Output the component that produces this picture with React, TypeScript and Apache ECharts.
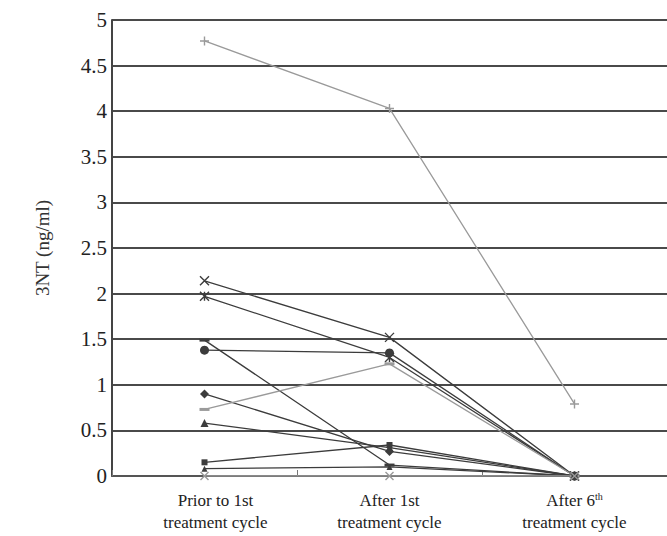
import React, { useEffect, useRef } from "react";
import * as echarts from "echarts";

const categories = [
  "Prior to 1st\ntreatment cycle",
  "After 1st\ntreatment cycle",
  "After 6{sup|th}\ntreatment cycle",
];

const yTicks = { min: 0, max: 5, interval: 0.5 };

const sPlus = [4.77, 4.03, 0.79];
const sCross = [2.14, 1.52, 0];
const sStar = [1.97, 1.3, 0];
const sBar = [1.49, 0.12, 0];
const sCircle = [1.38, 1.35, 0];
const sDiamond = [0.9, 0.27, 0];
const sDash = [0.73, 1.23, 0];
const sTriangle = [0.58, 0.31, 0];
const sSquare = [0.15, 0.34, 0];
const sSmall = [0.08, 0.1, 0];
const sZero = [0, 0, 0];

const DARK = "#3c3c3c";
const LIGHT = "#9a9a9a";

const SYM_X = "path://M0,0L10,10M10,0L0,10";
const SYM_PLUS = "path://M5,0L5,10M0,5L10,5";
const SYM_STAR = "path://M0,0L10,10M10,0L0,10M5,0L5,10";
const SYM_DASH = "path://M0,0L10,0L10,3L0,3Z";

function mk(name: string, data: number[], symbol: string, size: number | number[], color: string) {
  const stroked = symbol === SYM_X || symbol === SYM_PLUS || symbol === SYM_STAR;
  return {
    name,
    type: "line",
    data,
    symbol,
    symbolSize: size,
    showSymbol: true,
    lineStyle: { color, width: 1.3 },
    itemStyle: { color, borderColor: color, borderWidth: stroked ? 1.4 : 0 },
    z: 3,
  };
}

export default function App() {
  const ref = useRef<HTMLDivElement>(null);
  useEffect(() => {
    if (!ref.current) return;
    const chart = echarts.init(ref.current, null, { renderer: "svg" });
    const xData = categories.map((c, i) =>
      i === 0 ? { value: c, textStyle: { padding: [0, 0, 0, 22] } } : c
    );
    chart.setOption({
      animation: false,
      backgroundColor: "#ffffff",
      grid: { left: 112, top: 20, width: 573, height: 456, containLabel: false },
      xAxis: {
        type: "category",
        data: xData,
        boundaryGap: true,
        axisLine: { show: true, lineStyle: { color: "#555", width: 2 } },
        axisTick: { show: true, inside: true, length: 6, lineStyle: { color: "#777", width: 1 } },
        axisLabel: {
          margin: 13,
          fontFamily: "Liberation Serif",
          fontSize: 17,
          color: "#222",
          lineHeight: 22,
          rich: {
            sup: { fontSize: 10, fontFamily: "Liberation Serif", color: "#222", padding: [0, 0, 8, 0] },
          },
        },
      },
      yAxis: {
        type: "value",
        min: yTicks.min,
        max: yTicks.max,
        interval: yTicks.interval,
        name: "3NT (ng/ml)",
        nameLocation: "middle",
        nameGap: 60,
        nameRotate: 90,
        nameTextStyle: { fontFamily: "Liberation Serif", fontSize: 19, color: "#333" },
        axisLine: { show: true, lineStyle: { color: "#444", width: 2 } },
        axisTick: { show: false },
        axisLabel: { fontFamily: "Liberation Serif", fontSize: 21, color: "#222", margin: 5 },
        splitLine: { show: true, lineStyle: { color: "#4a4a4a", width: 2 } },
      },
      series: [
        mk("a", sPlus, SYM_PLUS, 9, LIGHT),
        mk("b", sCross, SYM_X, 9, DARK),
        mk("c", sStar, SYM_STAR, 9, DARK),
        mk("d", sBar, SYM_DASH, [10, 3], DARK),
        mk("e", sCircle, "circle", 9, DARK),
        mk("f", sDiamond, "diamond", 9, DARK),
        mk("g", sDash, SYM_DASH, [10, 3], LIGHT),
        mk("h", sTriangle, "triangle", 8, DARK),
        mk("i", sSquare, "rect", 6, DARK),
        mk("j", sSmall, "triangle", 6, DARK),
        mk("k", sZero, SYM_X, 8, LIGHT),
      ],
    });
    return () => chart.dispose();
  }, []);
  return (
    <div
      ref={ref}
      style={{ position: "absolute", left: 0, top: 0, width: 667, height: 536, background: "#fff" }}
    />
  );
}
